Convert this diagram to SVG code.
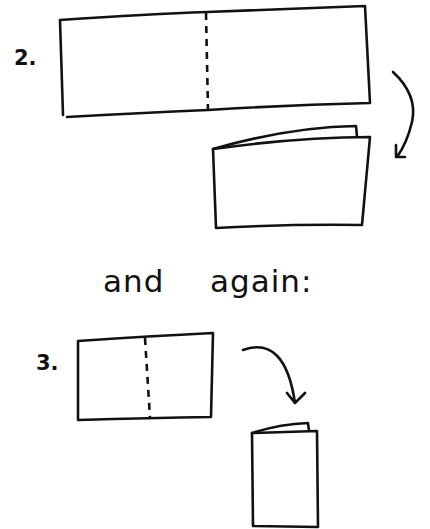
<svg xmlns="http://www.w3.org/2000/svg" width="430" height="529" viewBox="0 0 430 529">
<style>
.ln{fill:none;stroke:#111;stroke-width:2.6;stroke-linecap:round;stroke-linejoin:round}
.dash{fill:none;stroke:#111;stroke-width:2.6;stroke-dasharray:7,6}
.num{font-family:"DejaVu Sans",sans-serif;font-weight:bold;font-size:21px;fill:#111}
.hand{font-family:"DejaVu Sans",sans-serif;font-size:31px;fill:#111;letter-spacing:1px}
</style>
<rect width="430" height="529" fill="#fff"/>
<g id="step2">
<text class="num" x="14" y="65">2.</text>
<path class="ln" d="M60,20 Q150,14 207,12 Q290,9 365,6 L370,103 Q290,105 208,110 Q140,113 67,117 M60,20 L63,115"/>
<path class="dash" d="M206,13 L208,110"/>
</g>
<g id="booklet1">
<path class="ln" d="M213,149 Q290,127 356,126 L357,137"/>
<path class="ln" d="M213,149 Q300,137 370,137 L362,225 Q290,224 216,228 Z"/>
</g>
<g id="label">
<text class="hand" x="103" y="292">and</text>
<text class="hand" x="210" y="292">again:</text>
</g>
<g id="step3">
<text class="num" x="36" y="370">3.</text>
<path class="ln" d="M78,341 Q150,336 213,333 L211,417 Q150,418 78,420 Z"/>
<path class="dash" d="M145,338 L150,418"/>
</g>
<g id="booklet2">
<path class="ln" d="M252,433 Q280,424 308,423 L309,431"/>
<path class="ln" d="M252,433 L317,431 L318,527 L253,526 Z"/>
</g>
<g id="connectors">
<path class="ln" d="M393,72 Q418,95 412,122 Q407,143 397,157 M396,145 L396,157 L405,157"/>
<path class="ln" d="M243,350 Q285,335 295,403 M287,393 L295,403 L305,393"/>
</g>
</svg>
